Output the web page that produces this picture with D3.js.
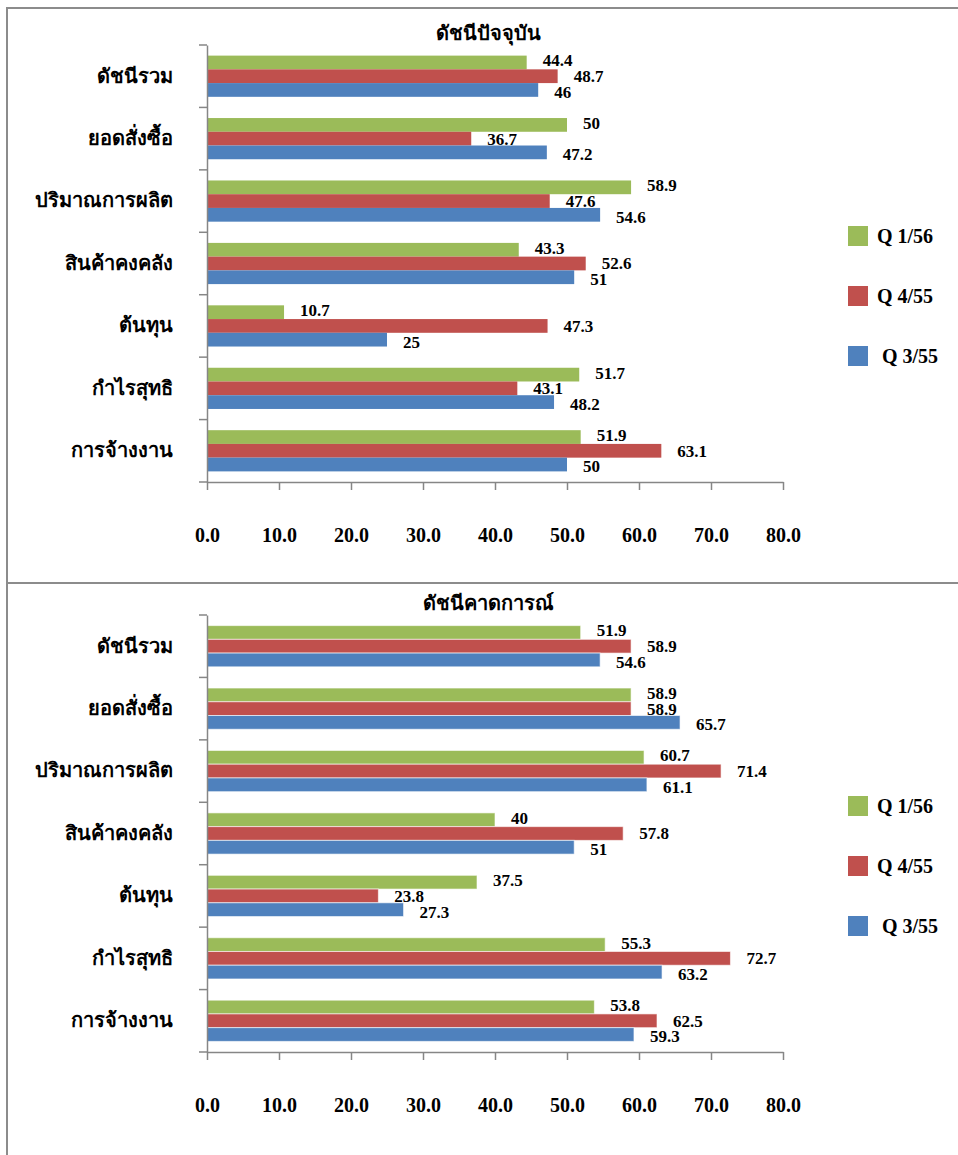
<!DOCTYPE html>
<html>
<head>
<meta charset="utf-8">
<script src="https://cdn.jsdelivr.net/npm/d3@7"></script>
<style>
  body { margin: 0; background: #fff; }
  svg text { font-family: "Liberation Serif", "Times New Roman", serif; font-weight: bold; fill: #000; }
</style>
</head>
<body>
<svg id="chart" width="958" height="1155"></svg>
<script>
// categories top to bottom
var categories = ['ดัชนีรวม', 'ยอดสั่งซื้อ', 'ปริมาณการผลิต', 'สินค้าคงคลัง', 'ต้นทุน', 'กำไรสุทธิ', 'การจ้างงาน'];
var seriesNames = ['Q 1/56', 'Q 4/55', 'Q 3/55'];
var seriesColors = ['#9bbb59', '#c0504d', '#4f81bd'];
var xTicks = [0, 10, 20, 30, 40, 50, 60, 70, 80];

// ดัชนีปัจจุบัน
var currentQ156 = [44.4, 50, 58.9, 43.3, 10.7, 51.7, 51.9];
var currentQ455 = [48.7, 36.7, 47.6, 52.6, 47.3, 43.1, 63.1];
var currentQ355 = [46, 47.2, 54.6, 51, 25, 48.2, 50];

// ดัชนีคาดการณ์
var forecastQ156 = [51.9, 58.9, 60.7, 40, 37.5, 55.3, 53.8];
var forecastQ455 = [58.9, 58.9, 71.4, 57.8, 23.8, 72.7, 62.5];
var forecastQ355 = [54.6, 65.7, 61.1, 51, 27.3, 63.2, 59.3];

var svg = d3.select('#chart');

// panel borders
svg.append('rect').attr('x', 7).attr('y', 8).attr('width', 980).attr('height', 575)
  .attr('fill', 'none').attr('stroke', '#8c8c8c').attr('stroke-width', 2);
svg.append('rect').attr('x', 7).attr('y', 583).attr('width', 980).attr('height', 600)
  .attr('fill', 'none').attr('stroke', '#8c8c8c').attr('stroke-width', 2);

var labelShift = [-2, 0, 2]; // value labels sit a bit off the bar centre, like the excel original

function drawPanel(top, title, s1, s2, s3, outline) {
  var g = svg.append('g').attr('transform', 'translate(0,' + top + ')');
  var x = d3.scaleLinear().domain([0, 80]).range([207, 783]);
  var y = d3.scaleBand().domain(categories).range([45, 482]).paddingInner(0.34).paddingOuter(0.17);
  var ySub = d3.scaleBand().domain(seriesNames).range([0, y.bandwidth()]);

  var rows = categories.map(function(c, i) {
    return { cat: c, vals: [s1[i], s2[i], s3[i]] };
  });

  g.append('text').attr('x', 488).attr('y', 40).attr('text-anchor', 'middle')
    .style('font-size', '20px').text(title);

  var grp = g.selectAll('.grp').data(rows).enter().append('g')
    .attr('transform', function(d) { return 'translate(0,' + y(d.cat) + ')'; });

  grp.selectAll('rect').data(function(d) {
      return d.vals.map(function(v, j) { return { name: seriesNames[j], v: v, j: j }; });
    }).enter().append('rect')
    .attr('x', x(0))
    .attr('y', function(d) { return ySub(d.name); })
    .attr('width', function(d) { return x(d.v) - x(0); })
    .attr('height', ySub.bandwidth())
    .attr('fill', function(d) { return seriesColors[d.j]; })
    .attr('stroke', outline ? 'rgba(255,255,255,0.6)' : 'none')
    .attr('stroke-width', 1);

  grp.selectAll('.val').data(function(d) {
      return d.vals.map(function(v, j) { return { name: seriesNames[j], v: v, j: j }; });
    }).enter().append('text')
    .attr('x', function(d) { return x(d.v) + 16; })
    .attr('y', function(d) { return ySub(d.name) + ySub.bandwidth() / 2 + labelShift[d.j]; })
    .attr('dy', '0.35em')
    .style('font-size', '17px')
    .text(function(d) { return d.v; });

  // y axis
  var yAxis = d3.axisLeft(y).tickSize(8).tickPadding(26).tickSizeOuter(0);
  var ya = g.append('g').attr('transform', 'translate(207,0)').call(yAxis);
  ya.select('.domain').attr('stroke', '#868686').attr('stroke-width', 1.5);
  ya.selectAll('.tick line').remove();
  ya.selectAll('.tick text').style('font-size', '20px').attr('fill', '#000');
  var bounds = d3.range(categories.length + 1).map(function(i) { return 45 + i * y.step() ; });
  g.selectAll('.ytk').data(bounds).enter().append('line')
    .attr('x1', 199).attr('x2', 207)
    .attr('y1', function(d) { return d; }).attr('y2', function(d) { return d; })
    .attr('stroke', '#868686').attr('stroke-width', 1.5);

  // x axis
  var xAxis = d3.axisBottom(x).tickValues(xTicks).tickSize(8).tickPadding(38)
    .tickFormat(d3.format('.1f')).tickSizeOuter(0);
  var xa = g.append('g').attr('transform', 'translate(0,482)').call(xAxis);
  xa.select('.domain').attr('stroke', '#868686').attr('stroke-width', 1.5);
  xa.selectAll('.tick line').attr('stroke', '#868686').attr('stroke-width', 1.5);
  xa.selectAll('.tick text').style('font-size', '20px').attr('fill', '#000');

  // legend
  var leg = g.selectAll('.leg').data(seriesNames).enter().append('g')
    .attr('transform', function(d, i) { return 'translate(848,' + (226 + i * 60) + ')'; });
  leg.append('rect').attr('width', 20).attr('height', 20)
    .attr('fill', function(d, i) { return seriesColors[i]; });
  leg.append('text').attr('x', function(d, i) { return i == 2 ? 34 : 29; }).attr('y', 10).attr('dy', '0.35em')
    .style('font-size', '20px').text(function(d) { return d; });
}

drawPanel(0, 'ดัชนีปัจจุบัน', currentQ156, currentQ455, currentQ355, false);
drawPanel(570, 'ดัชนีคาดการณ์', forecastQ156, forecastQ455, forecastQ355, true);
</script>
</body>
</html>
